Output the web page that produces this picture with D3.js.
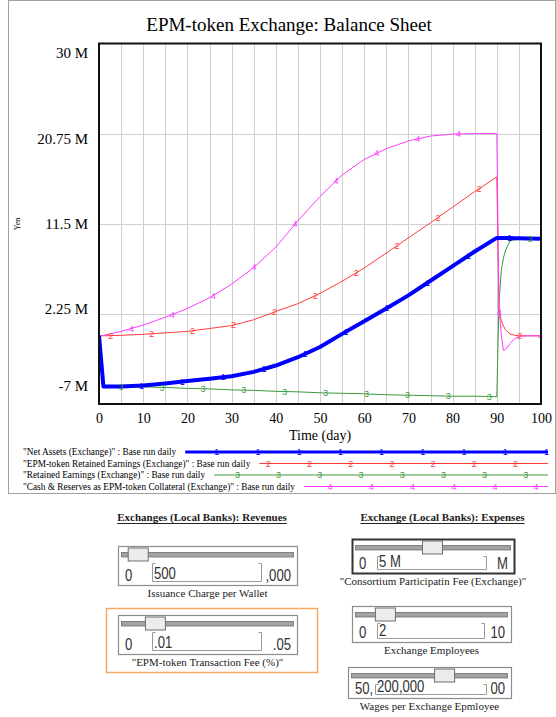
<!DOCTYPE html>
<html><head><meta charset="utf-8">
<script src="https://cdn.jsdelivr.net/npm/d3@7"></script>
<style>html,body{margin:0;padding:0;background:#fff;}svg{display:block;}</style>
</head><body>
<svg id="c" width="556" height="717"></svg>
<script>
// ---------------- DATA ----------------
const chartTitle = "EPM-token Exchange: Balance Sheet";
const times        = [0, 0.5, 1, 5, 10, 15, 20, 25, 30, 35, 40, 45, 50, 55, 60, 65, 70, 75, 80, 85, 90, 90.5, 91, 91.5, 92, 93, 94, 95, 97, 100];
const netAssets    = [0, -2.6, -5.2, -5.2, -5.1, -4.9, -4.65, -4.4, -4.15, -3.7, -3.05, -2.2, -1.15, 0.2, 1.5, 2.8, 4.15, 5.65, 7.15, 8.65, 10.05, 10.05, 10.05, 10.05, 10.05, 10.03, 10.0, 10.0, 9.98, 9.95];
const epmRetained  = [0, 0, 0, 0.05, 0.15, 0.3, 0.45, 0.75, 1.05, 1.65, 2.5, 3.3, 4.35, 5.6, 6.95, 8.5, 10.05, 11.6, 13.2, 14.8, 16.3, 2.6, 1.6, 1.0, 0.6, 0.2, 0.05, 0, 0, 0];
const retained     = [0, -2.6, -5.2, -5.2, -5.25, -5.3, -5.4, -5.45, -5.55, -5.6, -5.7, -5.75, -5.85, -5.9, -5.95, -6.05, -6.1, -6.15, -6.2, -6.2, -6.25, 3.5, 6.6, 8.0, 8.8, 9.75, 9.85, 9.9, 9.9, 9.9];
const cashReserves = [0, 0.02, 0.05, 0.45, 1.1, 1.9, 2.8, 3.9, 5.3, 7.0, 9.1, 11.8, 14.3, 16.5, 18.1, 19.2, 20.0, 20.5, 20.7, 20.75, 20.75, 3.0, 0.2, -1.5, -1.4, -0.8, -0.3, -0.05, 0, 0];
const seriesLegend = [
  "\"Net Assets (Exchange)\" : Base run daily",
  "\"EPM-token Retained Earnings (Exchange)\" : Base run daily",
  "\"Retained Earnings (Exchange)\" : Base run daily",
  "\"Cash & Reserves as EPM-token Collateral (Exchange)\" : Base run daily"
];
const seriesMarks = ["1", "2", "3", "4"];
const yTicks = [30, 20.75, 11.5, 2.25, -7];
const yTickLabels = ["30 M", "20.75 M", "11.5 M", "2.25 M", "-7 M"];
const yGrid = [20.75, 11.5, 2.25];
const xTicks = [0, 10, 20, 30, 40, 50, 60, 70, 80, 90, 100];
const xGrid = [5, 10, 15, 20, 25, 30, 35, 40, 45, 50, 55, 60, 65, 70, 75, 80, 85, 90, 95];
const xAxisLabel = "Time (day)";
const yAxisLabel = "Yen";

const panelTitles = ["Exchanges (Local Banks): Revenues", "Exchange (Local Banks): Expenses"];
const sliderNames = ["Issuance Charge per Wallet", "\"EPM-token Transaction Fee (%)\"", "\"Consortium Participatin Fee (Exchange)\"", "Exchange Employees", "Wages per Exchange Epmloyee"];
const sliderValues = [500, 0.01, 5e6, 2, 200000];
const sliderValueText = ["500", ".01", "5 M", "2", "200,000"];
const sliderMins = [0, 0, 0, 0, 50000];
const sliderMaxs = [5000, 0.05, 1e7, 10, 300000];
// visible parts of the range labels (the rest is hidden under the input box)
const sliderMinText = ["0", "0", "0", "0", "50,"];
const sliderMaxText = [",000", ".05", "M", "10", "00"];

// ---------------- LAYOUT / STYLE ----------------
const W = 556, H = 717;
const M = {l: 99, r: 541, t: 43.5, b: 404};
const colors = ["#0000ff", "#ff3c3c", "#3a9a3a", "#ff3cff"];
const widths = [4, 1, 1, 1];
const serif = "'Liberation Serif','Times New Roman',serif";
const sans = "'Liberation Sans',Arial,sans-serif";

const svg = d3.select("#c");
svg.append("rect").attr("width", W).attr("height", H).attr("fill", "#fff");
svg.append("rect").attr("x", 8.5).attr("y", 0.5).attr("width", 547).attr("height", 493)
  .attr("fill", "none").attr("stroke", "#a0a0a0");

const x = d3.scaleLinear().domain([0, 100]).range([M.l, M.r]);
const y = d3.scaleLinear().domain([-7, 30]).range([M.b, M.t]);
const labelY = d3.scaleLinear().domain([30, -7]).range([53, 394]);

svg.append("text").attr("x", 289).attr("y", 31).attr("text-anchor", "middle")
  .attr("font-family", serif).attr("font-size", 19).attr("fill", "#000").text(chartTitle);

// grid
const grid = svg.append("g");
grid.selectAll("line.v").data(xGrid).join("line")
  .attr("x1", d => Math.round(x(d)) + 0.5).attr("x2", d => Math.round(x(d)) + 0.5)
  .attr("y1", M.t).attr("y2", M.b).attr("stroke", "#cfcfcf").attr("stroke-width", 1);
grid.selectAll("line.h").data(yGrid).join("line")
  .attr("y1", d => Math.round(y(d)) + 0.5).attr("y2", d => Math.round(y(d)) + 0.5)
  .attr("x1", M.l).attr("x2", M.r).attr("stroke", "#cfcfcf").attr("stroke-width", 1);

// axes
const xa = svg.append("g").attr("transform", `translate(0,${M.b})`)
  .call(d3.axisBottom(x).tickValues(xTicks).tickSize(0).tickPadding(9).tickFormat(d3.format("d")));
xa.select(".domain").remove();
xa.selectAll("text").attr("font-family", serif).attr("font-size", 14).attr("fill", "#000");

const ya = svg.append("g").attr("transform", `translate(${M.l},0)`)
  .call(d3.axisLeft(y).tickValues(yTicks).tickSize(0).tickPadding(11).tickFormat((d, i) => yTickLabels[i]));
ya.select(".domain").remove();
ya.selectAll("text").attr("font-family", serif).attr("font-size", 15).attr("fill", "#000")
  .attr("y", d => Math.min(labelY(d), 386) - y(d));

svg.append("text").attr("x", (M.l + M.r) / 2).attr("y", 440).attr("text-anchor", "middle")
  .attr("font-family", serif).attr("font-size", 14).text(xAxisLabel);
svg.append("text").attr("transform", "translate(20,224) rotate(-90)").attr("text-anchor", "middle")
  .attr("font-family", serif).attr("font-size", 8).text(yAxisLabel);

// series
const series = [netAssets, epmRetained, retained, cashReserves];
svg.append("clipPath").attr("id", "pc").append("rect")
  .attr("x", M.l).attr("y", M.t - 3).attr("width", M.r - M.l).attr("height", M.b - M.t + 3);
const plot = svg.append("g").attr("clip-path", "url(#pc)");
const line = d3.line().x(d => x(d[0])).y(d => y(d[1]));
function interp(vals, t) {
  const i = Math.max(1, Math.min(times.length - 1, d3.bisectLeft(times, t)));
  const t0 = times[i - 1], t1 = times[i];
  const f = (t - t0) / (t1 - t0);
  return vals[i - 1] + (vals[i] - vals[i - 1]) * f;
}
[2, 1, 3, 0].forEach(si => {
  plot.append("path").datum(times.map((t, i) => [t, series[si][i]]))
    .attr("d", line).attr("fill", "none").attr("stroke", colors[si])
    .attr("stroke-width", widths[si]).attr("stroke-linejoin", "round");
});
// markers
const markG = svg.append("g");
series.forEach((vals, si) => {
  for (let px = 100.5 + si * 10.3; px <= M.r + 0.5; px += 40.9) {
    const t = Math.min(100, x.invert(px));
    markG.append("text").attr("x", px).attr("y", y(interp(vals, t)))
      .attr("dy", "0.35em").attr("text-anchor", "middle")
      .attr("font-family", sans).attr("font-size", 9).attr("fill", colors[si]).text(seriesMarks[si]);
  }
});

// plot border
svg.append("rect").attr("x", M.l).attr("y", M.t).attr("width", M.r - M.l).attr("height", M.b - M.t)
  .attr("fill", "none").attr("stroke", "#111").attr("stroke-width", 2);

// legend
const legRows = [452, 463.5, 475, 486.5];
seriesLegend.forEach((txt, i) => {
  const t = svg.append("text").attr("x", 23).attr("y", legRows[i]).attr("dy", "0.33em")
    .attr("font-family", serif).attr("font-size", 9.3).attr("fill", "#000").text(txt);
  const end = 23 + t.node().getComputedTextLength();
  const x0 = end + 9;
  svg.append("line").attr("x1", x0).attr("x2", 548).attr("y1", legRows[i]).attr("y2", legRows[i])
    .attr("stroke", colors[i]).attr("stroke-width", i === 0 ? 3 : 1);
  for (let px = 216.8 + i * 10.3 - 41.2 * 3; px <= 548; px += 41.2) {
    if (px < x0 + 3) continue;
    svg.append("text").attr("x", px).attr("y", legRows[i]).attr("dy", "0.35em").attr("text-anchor", "middle")
      .attr("font-family", sans).attr("font-size", 9).attr("fill", colors[i]).text(seriesMarks[i]);
  }
});

// ---------------- CONTROLS ----------------
const panelCenters = [202, 442.5];
panelTitles.forEach((t, i) => {
  const tx = svg.append("text").attr("x", panelCenters[i]).attr("y", 521).attr("text-anchor", "middle")
    .attr("font-family", serif).attr("font-size", 11).attr("font-weight", "bold").attr("fill", "#222").text(t);
  const w = tx.node().getComputedTextLength();
  svg.append("line").attr("x1", panelCenters[i] - w / 2).attr("x2", panelCenters[i] + w / 2)
    .attr("y1", 523.5).attr("y2", 523.5).attr("stroke", "#222").attr("stroke-width", 1);
});

// orange highlight frame around transaction fee slider
svg.append("rect").attr("x", 106.5).attr("y", 608.5).attr("width", 211).attr("height", 64)
  .attr("fill", "none").attr("stroke", "#f5a860").attr("stroke-width", 1.5);

const sliderBoxes = [
  {x: 118, y: 546, w: 179, h: 39, inX: 152, inW: 110, dark: false},
  {x: 118, y: 615, w: 179, h: 39, inX: 152, inW: 110, dark: false},
  {x: 352, y: 539, w: 162, h: 34, inX: 377, inW: 110, dark: true},
  {x: 352, y: 606, w: 159, h: 36, inX: 377, inW: 108, dark: false},
  {x: 348, y: 667, w: 163, h: 31, inX: 375, inW: 112, dark: false}
];
function digits(g, tx, ty, txt, anchor) {
  g.append("text").attr("transform", `translate(${tx},${ty}) scale(0.82,1)`)
    .attr("text-anchor", anchor).attr("font-family", sans).attr("font-size", 16).attr("fill", "#333").text(txt);
}
sliderBoxes.forEach((L, i) => {
  const g = svg.append("g");
  g.append("rect").attr("x", L.x + 0.5).attr("y", L.y + 0.5).attr("width", L.w).attr("height", L.h)
    .attr("fill", "#fff").attr("stroke", L.dark ? "#333" : "#8c8c8c").attr("stroke-width", L.dark ? 2 : 1.2);
  const tr = d3.scaleLinear().domain([sliderMins[i], sliderMaxs[i]]).range([L.x + 3, L.x + L.w - 4]);
  g.append("rect").attr("x", L.x + 3.5).attr("y", L.y + 6.5).attr("width", L.w - 7).attr("height", 4.5)
    .attr("fill", "#a3a3a3").attr("stroke", "#6e6e6e").attr("stroke-width", 0.8);
  const cx = tr(sliderValues[i]);
  g.append("rect").attr("x", cx - 10).attr("y", L.y + 2).attr("width", 20).attr("height", 13)
    .attr("fill", "#ececec").attr("stroke", "#6e6e6e").attr("stroke-width", 1);
  const base = L.y + L.h - 4;
  const top = L.y + 17;
  g.append("path").attr("d", `M${L.inX + 3.5},${top + 0.5}H${L.inX + 0.5}V${base + 0.5}H${L.inX + L.inW - 0.5}V${top + 0.5}H${L.inX + L.inW - 3.5}`)
    .attr("fill", "none").attr("stroke", "#9a9a9a").attr("stroke-width", 1);
  digits(g, L.x + 7, base, sliderMinText[i], "start");
  digits(g, L.x + L.w - 6, base, sliderMaxText[i], "end");
  digits(g, L.inX + 2, base - 2, sliderValueText[i], "start");
  g.append("text").attr("x", L.x + L.w / 2).attr("y", L.y + L.h + 12).attr("text-anchor", "middle")
    .attr("font-family", serif).attr("font-size", 11).attr("fill", "#222").text(sliderNames[i]);
});
</script>
</body></html>
